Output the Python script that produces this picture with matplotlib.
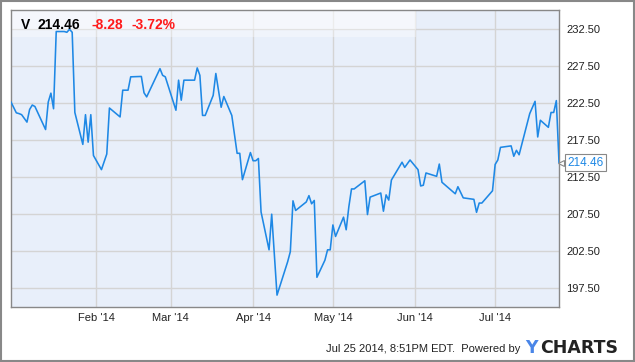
import datetime as dt
import numpy as np
import matplotlib
matplotlib.use("Agg")
import matplotlib.pyplot as plt
import matplotlib.dates as mdates
from matplotlib.patches import Rectangle
from matplotlib.transforms import blended_transform_factory

plt.rcParams['font.family'] = ['Liberation Sans', 'DejaVu Sans']

# closing prices (turning points only)
dates = [
    "2013-12-31", "2014-01-02", "2014-01-03", "2014-01-04", "2014-01-06", "2014-01-07",
    "2014-01-08", "2014-01-09", "2014-01-13", "2014-01-14", "2014-01-15", "2014-01-16",
    "2014-01-17", "2014-01-20", "2014-01-21", "2014-01-22", "2014-01-23", "2014-01-24",
    "2014-01-27", "2014-01-28", "2014-01-29", "2014-01-30", "2014-01-31", "2014-02-03",
    "2014-02-05", "2014-02-06", "2014-02-10", "2014-02-11", "2014-02-13", "2014-02-14",
    "2014-02-18", "2014-02-19", "2014-02-20", "2014-02-25", "2014-02-26", "2014-02-27",
    "2014-03-03", "2014-03-04", "2014-03-05", "2014-03-06", "2014-03-10", "2014-03-11",
    "2014-03-12", "2014-03-13", "2014-03-14", "2014-03-17", "2014-03-18", "2014-03-20",
    "2014-03-21", "2014-03-24", "2014-03-26", "2014-03-27", "2014-03-28", "2014-03-31",
    "2014-04-01", "2014-04-02", "2014-04-03", "2014-04-04", "2014-04-07", "2014-04-08",
    "2014-04-10", "2014-04-14", "2014-04-15", "2014-04-16", "2014-04-17", "2014-04-21",
    "2014-04-22", "2014-04-23", "2014-04-24", "2014-04-25", "2014-04-28", "2014-04-29",
    "2014-04-30", "2014-05-01", "2014-05-02", "2014-05-05", "2014-05-06", "2014-05-07",
    "2014-05-08", "2014-05-09", "2014-05-13", "2014-05-14", "2014-05-15", "2014-05-19",
    "2014-05-20", "2014-05-21", "2014-05-22", "2014-05-23", "2014-05-27", "2014-05-28",
    "2014-05-30", "2014-06-02", "2014-06-03", "2014-06-04", "2014-06-05", "2014-06-09",
    "2014-06-10", "2014-06-11", "2014-06-16", "2014-06-17", "2014-06-19", "2014-06-23",
    "2014-06-24", "2014-06-25", "2014-06-26", "2014-06-30", "2014-07-01", "2014-07-02",
    "2014-07-03", "2014-07-07", "2014-07-08", "2014-07-09", "2014-07-10", "2014-07-14",
    "2014-07-16", "2014-07-17", "2014-07-18", "2014-07-21", "2014-07-22", "2014-07-23",
    "2014-07-24", "2014-07-25",
]
prices = [
    222.6, 221.15, 221.05, 220.9, 219.9, 221.6,
    222.2, 222.0, 218.9, 222.6, 223.8, 221.7,
    232.1, 232.1, 232.0, 232.4, 232.0, 221.2,
    216.9, 220.9, 217.2, 220.9, 215.4, 213.5,
    215.6, 221.8, 220.6, 224.2, 224.2, 226.0,
    226.05, 223.85, 223.3, 227.1, 226.2, 226.0,
    221.5, 225.55, 222.85, 225.55, 225.55, 227.2,
    226.2, 220.8, 220.8, 223.5, 226.45, 221.9,
    223.35, 220.8, 215.7, 215.7, 212.15, 215.8,
    214.7, 214.7, 215.0, 207.8, 202.7, 207.5,
    196.6, 201.1, 202.45, 209.3, 208.0, 209.15,
    210.0, 208.9, 209.35, 199.0, 201.3, 202.7,
    202.7, 206.05, 204.5, 207.1, 205.4, 208.5,
    210.9, 210.9, 212.0, 207.45, 209.8, 210.35,
    207.9, 210.1, 209.4, 212.1, 214.5, 213.8,
    214.8, 213.5, 211.3, 211.4, 213.05, 212.6,
    214.25, 211.8, 210.25, 211.2, 209.7, 209.5,
    207.75, 209.0, 209.0, 210.65, 214.2, 214.8,
    216.5, 216.7, 215.3, 216.1, 215.5, 221.05,
    222.7, 217.9, 220.15, 219.2, 221.2, 221.2,
    222.8, 214.46,
]
yticks = [197.5, 202.5, 207.5, 212.5, 217.5, 222.5, 227.5, 232.5]
month_ticks = ["2014-02-01", "2014-03-01", "2014-04-01", "2014-05-01", "2014-06-01", "2014-07-01"]

x = [dt.datetime.strptime(d, "%Y-%m-%d") for d in dates]

fig = plt.figure(figsize=(6.35, 3.62), dpi=100)
ax = fig.add_axes([11 / 635, 1 - 307 / 362, 548 / 635, 297 / 362])
ax.set_facecolor('#e8effa')

ax.plot(x, prices, color='#1e88e5', lw=1.15, zorder=3)

ax.set_xlim(dt.datetime(2013, 12, 31), dt.datetime(2014, 7, 25))
ax.set_ylim(195, 235)

ax.set_yticks(yticks)
ax.set_yticklabels(["%.2f" % v for v in yticks])
ax.set_xticks([dt.datetime.strptime(d, "%Y-%m-%d") for d in month_ticks])
ax.xaxis.set_major_formatter(mdates.DateFormatter("%b '%y"))
ax.yaxis.tick_right()
ax.tick_params(length=0, labelsize=8, colors='#222222', pad=5)
ax.tick_params(axis='x', pad=4)
ax.grid(True, color='#d4d4d4', lw=1)
ax.set_axisbelow(True)
for s in ax.spines.values():
    s.set_color('#888888')
    s.set_linewidth(1)

# header band
ax.add_patch(Rectangle((0, (307 - 37) / 297), (416 - 11) / 548, 27 / 297,
                       transform=ax.transAxes, facecolor='white', alpha=0.35,
                       lw=0, zorder=2))
ax.add_patch(Rectangle((0, (307 - 29) / 297), (416 - 11) / 548, 19 / 297,
                       transform=ax.transAxes, facecolor='white', alpha=0.35,
                       lw=0, zorder=2))

fig.text(21 / 635, 1 - 29 / 362, "V", fontsize=10, fontweight='bold', color='black')
fig.text(38 / 635, 1 - 29 / 362, "214.46", fontsize=10, fontweight='bold', color='black')
fig.text(91 / 635, 1 - 29 / 362, "-8.28", fontsize=10, fontweight='bold', color='#ff1a1a')
fig.text(132 / 635, 1 - 29 / 362, "-3.72%", fontsize=10, fontweight='bold', color='#ff1a1a')

# last value marker with small pointer
trans = blended_transform_factory(ax.transAxes, ax.transData)
ax.plot([1.004], [prices[-1]], marker='<', ms=4, mfc='white', mec='#888888', mew=0.8,
        transform=trans, clip_on=False, zorder=5)
ax.text(1.015, prices[-1], "%.2f" % prices[-1], transform=trans, fontsize=8.5,
        color='#1e88e5', va='center', ha='left', clip_on=False, zorder=6,
        bbox=dict(boxstyle='square,pad=0.2', facecolor='white', edgecolor='#888888', lw=0.8))

# footer
fig.text(520 / 635, 1 - 349 / 362, "Jul 25 2014, 8:51PM EDT.  Powered by", fontsize=8,
         color='#222222', ha='right', va='center')
fig.text(525 / 635, 1 - 348 / 362, "Y", fontsize=12.5, fontweight='bold', color='#4a86e8',
         va='center', family='DejaVu Sans')
fig.text(540 / 635, 1 - 348 / 362, "CHARTS", fontsize=12.5, fontweight='bold', color='#222222',
         va='center', family='DejaVu Sans')

fig.add_artist(Rectangle((0.001, 0.002), 0.997, 0.996, transform=fig.transFigure,
                         fill=False, edgecolor='#888888', lw=1.5))

fig.savefig("out.png", dpi=100)
